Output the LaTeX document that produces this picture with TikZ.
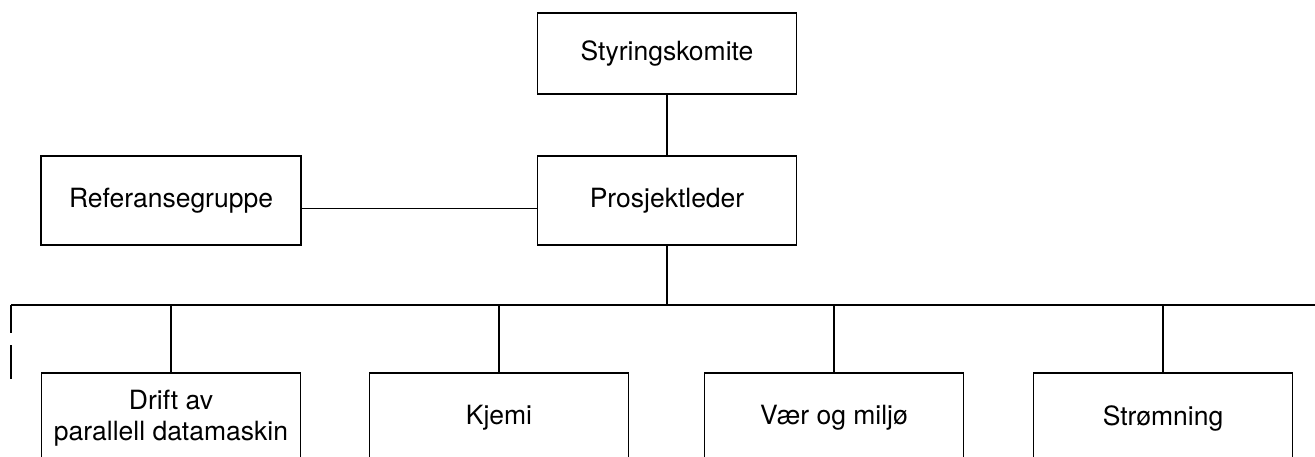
\documentclass[tikz,border=0pt]{standalone}
\usepackage{fontspec}
\setmainfont{TeX Gyre Heros}
\begin{document}
\begin{tikzpicture}[x=1pt,y=-1pt,
  line width=1.8pt,
  box/.style={draw, rectangle, inner sep=0pt, align=center,
    minimum width=259pt, minimum height=89pt,
    font=\fontsize{26.5}{31}\selectfont},
  link/.style={draw, line width=1.8pt}]
\useasboundingbox (0,0) rectangle (1315,457);
\clip (0,0) rectangle (1315,457);
% top level
\node[box, minimum height=81pt] (styr) at (667,53.5) {Styringskomite};
\node[box] (pros) at (667,200.5) {Prosjektleder};
\node[box, minimum width=260pt] (ref) at (171,200.5) {Referansegruppe};
% bottom row (boxes run past the lower edge)
\node[box, minimum height=90pt] (drift) at (171,418) {Drift av\\parallell datamaskin};
\node[box, minimum height=90pt] (kjemi) at (499,418) {Kjemi};
\node[box, minimum height=90pt] (vaer) at (834,418) {Vær og miljø};
\node[box, minimum height=90pt] (strom) at (1163,418) {Strømning};
% bus
\coordinate (busL) at (11,305);
\coordinate (busR) at (1315,305);
\coordinate (markA) at (11,333);
\coordinate (markB) at (11,345);
\coordinate (markC) at (11,379);
% connectors
\draw[link] (styr.south) -- (pros.north);
\draw[link] ([yshift=-8pt]ref.east) -- ([yshift=-8pt]pros.west);
\draw[link] (pros.south) -- (pros.south |- busL);
\draw[link] (busL) -- (busR);
\draw[link] (busL) -- (markA);
\draw[link] (markB) -- (markC);
\draw[link] (drift.north) -- (drift.north |- busL);
\draw[link] (kjemi.north) -- (kjemi.north |- busL);
\draw[link] (vaer.north) -- (vaer.north |- busL);
\draw[link] (strom.north) -- (strom.north |- busL);
\end{tikzpicture}
\end{document}
